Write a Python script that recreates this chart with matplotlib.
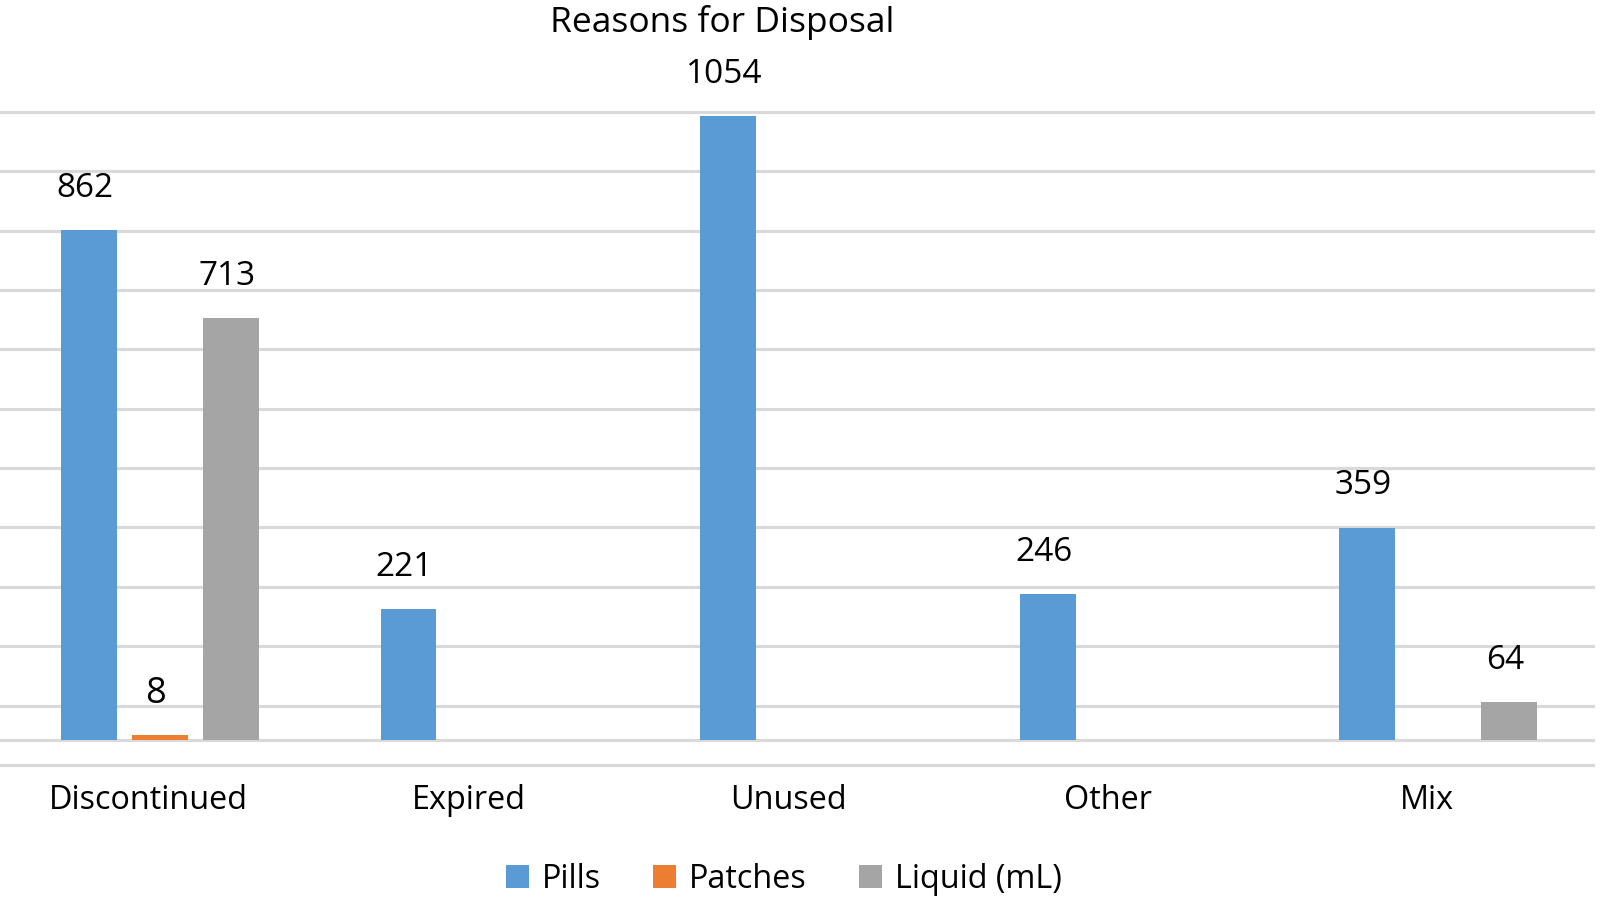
import matplotlib
matplotlib.use("Agg")
import matplotlib.pyplot as plt
import matplotlib.transforms as mtransforms
import numpy as np

categories = ["Discontinued", "Expired", "Unused", "Other", "Mix"]
series_names = ["Pills", "Patches", "Liquid (mL)"]
pills = [862, 221, 1054, 246, 359]
patches = [8, None, None, None, None]
liquid = [713, None, None, None, 64]
colors = ["#5B9BD5", "#ED7D31", "#A5A5A5"]

plt.rcParams['font.family'] = ['Open Sans', 'DejaVu Sans']

W, H = 1600, 897
fig = plt.figure(figsize=(W / 100, H / 100), dpi=100)

# axes placement (pixels): baseline at y=740, 0.5917 px per unit
ylo, yhi = -60, 1080
k = 0.5917
base = 740
pix_bottom = base - ylo * k
pix_top = base - yhi * k
ax = fig.add_axes([0, (H - pix_bottom) / H, 1595 / W, (pix_bottom - pix_top) / H])
ax.set_xlim(-0.5, 4.49)
ax.set_ylim(ylo, yhi)

x = np.arange(len(categories))
bw = 0.175
off = 0.222
all_series = [pills, patches, liquid]
for i, (vals, c, name) in enumerate(zip(all_series, colors, series_names)):
    xs = [xi + (i - 1) * off for xi, v in zip(x, vals) if v is not None]
    vs = [v for v in vals if v is not None]
    ax.bar(xs, vs, width=bw, color=c, label=name, zorder=3)
    for xx, vv in zip(xs, vs):
        fs = 26 if vv < 20 else 24
        ax.annotate(str(vv), (xx, vv), xytext=(-3, 30), textcoords="offset points",
                    ha="center", va="center", fontsize=fs, color="black")

# gridlines
ax.set_yticks(np.arange(-42, 1100, 100.3))
ax.grid(axis="y", color="#D9D9D9", linewidth=2.2, zorder=0)
ax.axhline(0, color="#D9D9D9", linewidth=2.2, zorder=2)
ax.tick_params(left=False, bottom=False, labelleft=False, labelbottom=False)
for s in ax.spines.values():
    s.set_visible(False)

# category labels
tr = mtransforms.blended_transform_factory(ax.transData, fig.transFigure) + \
    mtransforms.Affine2D().translate(-11, 0)
for xi, cat in zip(x, categories):
    ax.text(xi, (H - 800) / H, cat, transform=tr, ha="center", va="center", fontsize=23.3)

fig.text(722 / W, (H - 23) / H, "Reasons for Disposal", ha="center", va="center", fontsize=25.5)

leg = fig.legend(loc="center", bbox_to_anchor=(784 / W, (H - 879) / H), ncol=3, frameon=False,
                 fontsize=23.3, handlelength=0.72, handleheight=0.72, handletextpad=0.4,
                 columnspacing=1.6)

fig.savefig("out.png", dpi=100)
